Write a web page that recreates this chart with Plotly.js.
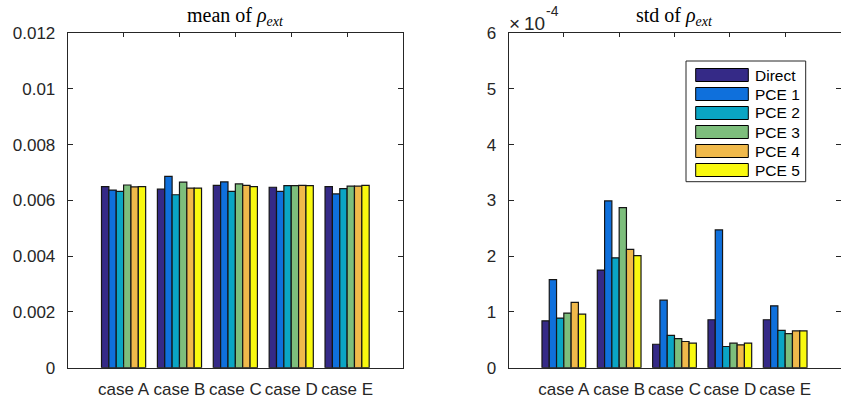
<!DOCTYPE html>
<html>
<head>
<meta charset="utf-8">
<script src="https://cdn.plot.ly/plotly-3.0.1.min.js"></script>
<style>html,body{margin:0;padding:0;background:#fff;}#chart{width:841px;height:399px;}</style>
</head>
<body>
<div id="chart"></div>
<script>
// ---- data ----
const categories = ["case A", "case B", "case C", "case D", "case E"];
const seriesNames = ["Direct", "PCE 1", "PCE 2", "PCE 3", "PCE 4", "PCE 5"];
const seriesColors = ["#352a87", "#0f70dc", "#0aa5c4", "#7dbe7c", "#f0b94b", "#f9f90f"];

// mean of rho_ext (per series, over categories)
const meanDirect = [0.00649, 0.00640, 0.00654, 0.00647, 0.00649];
const meanPCE1   = [0.00637, 0.00686, 0.00666, 0.00632, 0.00623];
const meanPCE2   = [0.00632, 0.00620, 0.00632, 0.00653, 0.00642];
const meanPCE3   = [0.00655, 0.00665, 0.00659, 0.00653, 0.00651];
const meanPCE4   = [0.00648, 0.00644, 0.00654, 0.00654, 0.00651];
const meanPCE5   = [0.00649, 0.00644, 0.00649, 0.00653, 0.00654];

// std of rho_ext, in units of 1e-4
const stdDirect = [0.84, 1.75, 0.42, 0.86, 0.86];
const stdPCE1   = [1.58, 2.99, 1.21, 2.47, 1.11];
const stdPCE2   = [0.89, 1.97, 0.58, 0.38, 0.67];
const stdPCE3   = [0.98, 2.87, 0.52, 0.44, 0.61];
const stdPCE4   = [1.17, 2.12, 0.47, 0.41, 0.66];
const stdPCE5   = [0.96, 2.01, 0.44, 0.44, 0.66];

const meanSeries = [meanDirect, meanPCE1, meanPCE2, meanPCE3, meanPCE4, meanPCE5];
const stdSeries  = [stdDirect, stdPCE1, stdPCE2, stdPCE3, stdPCE4, stdPCE5];

// ---- layout helpers ----
const W = 841, H = 399;
const px = x => x / W;
const py = y => 1 - y / H;
const axisColor = "#262626";
const sans = "Liberation Sans, Arial, sans-serif";
const mkFont = (size, color) => ({family: sans, size: size, color: color || axisColor});

const traces = [];
seriesNames.forEach((name, i) => {
  traces.push({
    type: "bar", x: categories, y: meanSeries[i], name: name,
    xaxis: "x", yaxis: "y", showlegend: false,
    marker: {color: seriesColors[i], line: {color: "#151515", width: 1.2}}
  });
  traces.push({
    type: "bar", x: categories, y: stdSeries[i], name: name,
    xaxis: "x2", yaxis: "y2", showlegend: false,
    marker: {color: seriesColors[i], line: {color: "#151515", width: 1.2}}
  });
});

const mkX = dom => ({
  type: "category", range: [-1, 5], showline: true, linecolor: axisColor, linewidth: 1,
  mirror: "ticks", ticks: "inside", ticklen: 4, tickcolor: axisColor,
  showgrid: false, zeroline: false, tickfont: mkFont(17), ticklabelstandoff: 6, domain: dom
});
const mkY = dom => ({
  showline: true, linecolor: axisColor, linewidth: 1,
  mirror: "ticks", ticks: "inside", ticklen: 5, tickcolor: axisColor,
  showgrid: false, zeroline: false, tickfont: mkFont(17), ticklabelstandoff: 8, domain: dom
});

const xDomL = [px(67.7), px(403)];
const xDomR = [px(508.5), px(840.5)];
const yDom = [py(367.7), py(33)];

const shapes = [];
const annotations = [];

// titles
const mkTitleFont = () => ({family: "Liberation Serif, Times New Roman, serif", size: 20, color: "#000"});
annotations.push({xref: "paper", yref: "paper", x: (xDomL[0] + xDomL[1]) / 2, y: py(16),
  text: "mean of <i>ρ</i><sub><i>ext</i></sub>", showarrow: false, font: mkTitleFont(),
  xanchor: "center", yanchor: "middle"});
annotations.push({xref: "paper", yref: "paper", x: (xDomR[0] + xDomR[1]) / 2, y: py(16),
  text: "std of <i>ρ</i><sub><i>ext</i></sub>", showarrow: false, font: mkTitleFont(),
  xanchor: "center", yanchor: "middle"});
// exponent label
annotations.push({xref: "paper", yref: "paper", x: px(507), y: py(23),
  text: "×\u200910", showarrow: false, font: mkFont(19),
  xanchor: "left", yanchor: "middle"});
annotations.push({xref: "paper", yref: "paper", x: px(543.5), y: py(11),
  text: "-4", showarrow: false, font: mkFont(14),
  xanchor: "left", yanchor: "middle"});

// legend box (custom, wide swatches)
shapes.push({type: "rect", xref: "paper", yref: "paper",
  x0: px(686), x1: px(805.7), y0: py(181.7), y1: py(61),
  line: {color: axisColor, width: 1}, fillcolor: "#ffffff", layer: "above"});
seriesNames.forEach((name, i) => {
  const cy = 75 + i * 19;
  shapes.push({type: "rect", xref: "paper", yref: "paper",
    x0: px(695.7), x1: px(748.3), y0: py(cy + 6.5), y1: py(cy - 6.5),
    line: {color: "#000", width: 1}, fillcolor: seriesColors[i], layer: "above"});
  annotations.push({xref: "paper", yref: "paper", x: px(752.5), y: py(cy),
    text: name, showarrow: false, xanchor: "left", yanchor: "middle",
    font: mkFont(15.5, "#000")});
});

const layout = {
  width: W, height: H,
  margin: {l: 0, r: 0, t: 0, b: 0, pad: 0},
  paper_bgcolor: "#ffffff", plot_bgcolor: "#ffffff",
  barmode: "group", bargap: 0.21, bargroupgap: 0,
  showlegend: false,
  xaxis: Object.assign(mkX(xDomL), {anchor: "y"}),
  yaxis: Object.assign(mkY(yDom), {anchor: "x", range: [0, 0.012], dtick: 0.002, tick0: 0}),
  xaxis2: Object.assign(mkX(xDomR), {anchor: "y2"}),
  yaxis2: Object.assign(mkY(yDom), {anchor: "x2", range: [0, 6], dtick: 1, tick0: 0}),
  shapes: shapes,
  annotations: annotations
};

Plotly.newPlot("chart", traces, layout, {staticPlot: true, displayModeBar: false});
</script>
</body>
</html>
